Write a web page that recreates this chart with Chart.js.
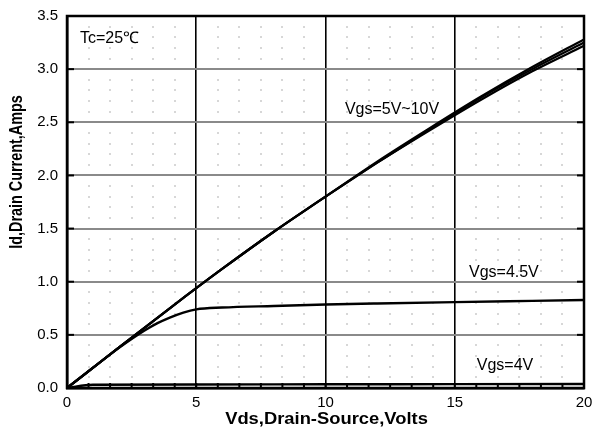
<!DOCTYPE html>
<html>
<head>
<meta charset="utf-8">
<script src="https://cdn.jsdelivr.net/npm/chart.js@4.4.1/dist/chart.umd.min.js"></script>
<style>
html,body{margin:0;padding:0;background:#fff;}
#wrap{width:594px;height:437px;position:relative;}
</style>
</head>
<body>
<div id="wrap"><canvas id="c" width="594" height="437"></canvas></div>
<script>
// ---- data ----
const vdsMain = [0, 2, 4, 6, 8, 10, 12, 14, 16, 18, 20];
const idVgs10 = [0, 0.38, 0.755, 1.12, 1.47, 1.80, 2.13, 2.44, 2.74, 3.02, 3.28];
const idVgs7  = [0, 0.38, 0.755, 1.12, 1.47, 1.80, 2.12, 2.43, 2.73, 3.00, 3.25];
const idVgs5  = [0, 0.38, 0.755, 1.12, 1.47, 1.80, 2.12, 2.42, 2.71, 2.98, 3.22];
const vds45   = [0, 1, 2, 3, 3.5, 4, 4.5, 5, 6, 8, 10, 12, 15, 18, 20];
const idVgs45 = [0, 0.19, 0.375, 0.54, 0.61, 0.665, 0.71, 0.74, 0.757, 0.772, 0.785, 0.795, 0.808, 0.82, 0.828];
const vds4    = [0, 1, 5, 10, 15, 20];
const idVgs4  = [0, 0.03, 0.033, 0.035, 0.036, 0.037];
const xTicks = [0, 5, 10, 15, 20];
const yTicks = [0, 0.5, 1.0, 1.5, 2.0, 2.5, 3.0, 3.5];
const curveLabels = [
  {text: 'Tc=25\u2103', x: 0.5, y: 3.29},
  {text: 'Vgs=5V~10V', x: 10.75, y: 2.62},
  {text: 'Vgs=4.5V', x: 15.55, y: 1.09},
  {text: 'Vgs=4V', x: 15.85, y: 0.21}
];
const xTitle = 'Vds,Drain-Source,Volts';
const yTitle = 'Id,Drain Current,Amps';

const pts = (xs, ys) => xs.map((x, i) => ({x: x, y: ys[i]}));

const frame = {
  id: 'frame',
  beforeDatasetsDraw(chart) {
    const {ctx, chartArea: a, scales: {x, y}} = chart;
    ctx.save();
    // dotted minor grid
    ctx.fillStyle = '#b0b0b0';
    for (let i = 1; i < 24; i++) {
      if (i % 6 === 0) continue;
      const px = Math.round(x.getPixelForValue(i * 5 / 6));
      for (let j = 1; j < 35; j++) {
        if (j % 5 === 0) continue;
        const py = Math.round(y.getPixelForValue(j * 0.1));
        ctx.fillRect(px - 0.5, py - 1, 1, 2);
      }
    }
    // minor ticks on bottom axis
    ctx.fillStyle = '#000';
    for (let i = 1; i < 24; i++) {
      const px = x.getPixelForValue(i * 5 / 6);
      ctx.fillRect(px - 1, a.bottom - 5, 2, 5);
    }
    // major ticks on left/right
    yTicks.forEach(v => {
      const py = y.getPixelForValue(v);
      ctx.fillRect(a.left, py - 1, 7, 2);
      ctx.fillRect(a.right - 7, py - 1, 7, 2);
    });
    ctx.restore();
  },
  afterDraw(chart) {
    const {ctx, chartArea: a, scales: {x, y}} = chart;
    ctx.save();
    ctx.strokeStyle = '#000';
    ctx.lineWidth = 2.5;
    ctx.strokeRect(a.left, a.top, a.right - a.left, a.bottom - a.top);
    ctx.fillStyle = '#000';
    ctx.font = '16px "Liberation Sans", Arial, sans-serif';
    ctx.textBaseline = 'middle';
    ctx.textAlign = 'left';
    curveLabels.forEach(l => ctx.fillText(l.text, x.getPixelForValue(l.x), y.getPixelForValue(l.y)));
    ctx.font = 'bold 17px "Liberation Sans", Arial, sans-serif';
    ctx.textAlign = 'center';
    ctx.save();
    ctx.translate((a.left + a.right) / 2 + 1, 419);
    ctx.scale(1.08, 1);
    ctx.fillText(xTitle, 0, 0);
    ctx.restore();
    ctx.font = 'bold 18px "Liberation Sans", Arial, sans-serif';
    ctx.translate(17, 172);
    ctx.rotate(-Math.PI / 2);
    ctx.scale(0.8, 1);
    ctx.fillText(yTitle, 0, 0);
    ctx.restore();
  }
};

const line = (data, w) => ({
  data: data, borderColor: '#000', borderWidth: w, pointRadius: 0,
  fill: false, cubicInterpolationMode: 'monotone', showLine: true
});

new Chart(document.getElementById('c'), {
  type: 'scatter',
  data: {
    datasets: [
      line(pts(vdsMain, idVgs10), 2.2),
      line(pts(vdsMain, idVgs7), 2.2),
      line(pts(vdsMain, idVgs5), 2.2),
      line(pts(vds45, idVgs45), 2.4),
      line(pts(vds4, idVgs4), 2.4)
    ]
  },
  options: {
    responsive: false,
    animation: false,
    devicePixelRatio: 1,
    layout: {padding: {left: 0, right: 10, top: 16, bottom: 0}},
    plugins: {legend: {display: false}, tooltip: {enabled: false}},
    scales: {
      x: {
        type: 'linear', min: 0, max: 20,
        afterFit(s) { s.height = 49; s.paddingLeft = 0; s.paddingRight = 0; },
        afterBuildTicks(s) { s.ticks = xTicks.map(v => ({value: v})); },
        ticks: {color: '#000', padding: 6, font: {family: '"Liberation Sans", Arial', size: 15}, maxRotation: 0},
        grid: {drawTicks: false, color: c => (c.tick && c.tick.value > 0 && c.tick.value < 20) ? '#000' : 'rgba(0,0,0,0)', lineWidth: 1.6},
        border: {display: true, color: '#000', width: 2.5}
      },
      y: {
        type: 'linear', min: 0, max: 3.5,
        afterFit(s) { s.width = 67; s.paddingTop = 0; s.paddingBottom = 0; },
        afterBuildTicks(s) { s.ticks = yTicks.map(v => ({value: v})); },
        ticks: {color: '#000', padding: 9, font: {family: '"Liberation Sans", Arial', size: 15}, callback: v => v.toFixed(1)},
        grid: {drawTicks: false, color: c => (c.tick && c.tick.value > 0 && c.tick.value < 3.5) ? '#8a8a8a' : 'rgba(0,0,0,0)', lineWidth: 2},
        border: {display: true, color: '#000', width: 2.5}
      }
    }
  },
  plugins: [frame]
});
</script>
</body>
</html>
